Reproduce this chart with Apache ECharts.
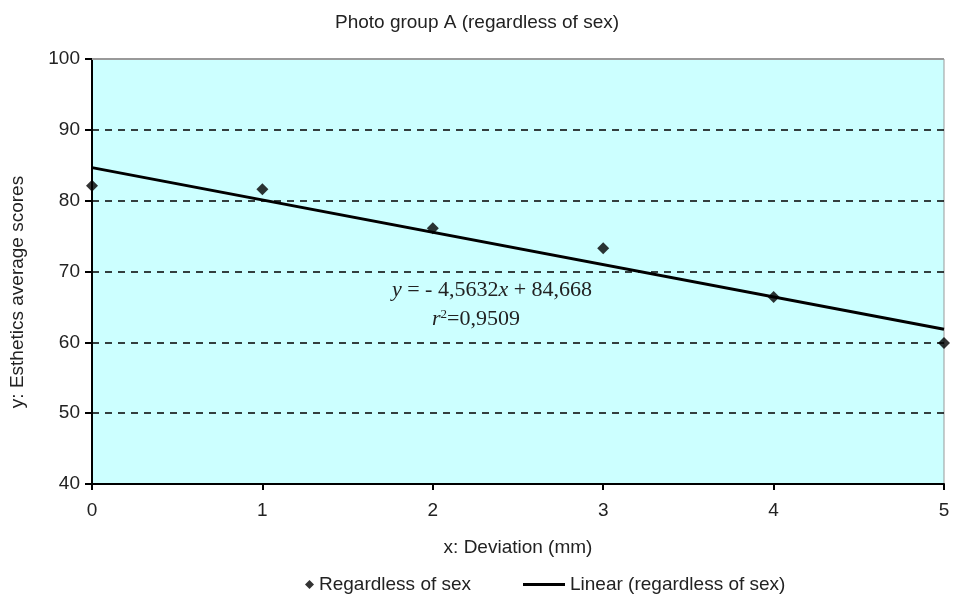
<!DOCTYPE html>
<html>
<head>
<meta charset="utf-8">
<script src="https://cdn.jsdelivr.net/npm/echarts@6/dist/echarts.min.js"></script>
<style>
  html, body { margin: 0; padding: 0; background: #fff; }
  #chart { width: 954px; height: 599px; }
</style>
</head>
<body>
<div id="chart"></div>
<script>
const deviation = [0, 1, 2, 3, 4, 5]
const scores = [82.1, 81.6, 76.1, 73.3, 66.4, 59.9]
// trend line ends, from y = -4,5632x + 84,668
const trendX = [0, 5]
const trendY = [84.668, 61.852]

const chart = echarts.init(document.getElementById('chart'))
const txt = '#222'

chart.setOption({
  animation: false,
  textStyle: { fontFamily: 'Liberation Sans, Arial, sans-serif' },
  title: {
    text: 'Photo group A (regardless of sex)',
    left: 'center',
    top: 8,
    textStyle: { fontSize: 19, fontWeight: 'normal', color: txt }
  },
  grid: {
    left: 92,
    right: 10,
    top: 59,
    bottom: 115,
    show: true,
    backgroundColor: '#ccffff',
    borderColor: '#999',
    borderWidth: 1
  },
  legend: [
    {
      left: 300,
      top: 570,
      textStyle: { fontSize: 19, color: txt },
      data: [{ name: 'Regardless of sex', icon: 'diamond', itemStyle: { color: '#000' } }],
      itemWidth: 9,
      itemHeight: 9,
      itemGap: 5
    },
    {
      left: 518,
      top: 570,
      textStyle: { fontSize: 19, color: txt },
      data: [{ name: 'Linear (regardless of sex)', icon: 'rect', itemStyle: { color: '#000' } }],
      itemWidth: 42,
      itemHeight: 3
    }
  ],
  xAxis: {
    type: 'value',
    min: 0,
    max: 5,
    interval: 1,
    name: 'x: Deviation (mm)',
    nameLocation: 'middle',
    nameGap: 54,
    nameTextStyle: { fontSize: 19, color: txt },
    axisLine: { lineStyle: { color: '#000', width: 2 } },
    axisTick: { show: true, length: 6, lineStyle: { color: '#000', width: 2 } },
    axisLabel: { fontSize: 19, color: txt, margin: 17 },
    splitLine: { show: false }
  },
  yAxis: {
    type: 'value',
    min: 40,
    max: 100,
    interval: 10,
    axisLine: { show: true, lineStyle: { color: '#000', width: 2 } },
    axisTick: { show: true, length: 7, lineStyle: { color: '#000', width: 2 } },
    axisLabel: { fontSize: 19, color: txt, margin: 12 },
    splitLine: { show: true, lineStyle: { color: '#000', type: [7, 6], width: 1.5 } }
  },
  series: [
    {
      name: 'Linear (regardless of sex)',
      type: 'line',
      data: trendX.map((x, i) => [x, trendY[i]]),
      symbol: 'none',
      lineStyle: { color: '#000', width: 3 },
      itemStyle: { color: '#000' },
      z: 3,
      markLine: {
        silent: true,
        symbol: 'none',
        label: { show: false },
        lineStyle: { color: '#999', type: 'solid', width: 2 },
        data: [{ yAxis: 100 }]
      }
    },
    {
      name: 'Regardless of sex',
      type: 'scatter',
      data: deviation.map((x, i) => [x, scores[i]]),
      symbol: 'diamond',
      symbolSize: 12,
      itemStyle: { color: '#000' },
      z: 4
    }
  ],
  graphic: [
    {
      type: 'text',
      x: 18,
      y: 292,
      rotation: Math.PI / 2,
      style: {
        text: 'y: Esthetics average scores',
        font: '19px Liberation Sans, Arial, sans-serif',
        fill: txt,
        align: 'center',
        verticalAlign: 'middle'
      }
    },
    {
      type: 'text',
      x: 492,
      y: 290,
      style: {
        text: '{i|y} = - 4,5632{i|x} + 84,668',
        rich: {
          i: { fontStyle: 'italic', fontFamily: 'Liberation Serif, serif', fontSize: 22, fill: txt }
        },
        font: '22px Liberation Serif, serif',
        fill: txt,
        align: 'center',
        verticalAlign: 'middle'
      }
    },
    {
      type: 'text',
      x: 476,
      y: 319,
      style: {
        text: '{i|r}{s|2}=0,9509',
        rich: {
          i: { fontStyle: 'italic', fontFamily: 'Liberation Serif, serif', fontSize: 22, fill: txt },
          s: { fontFamily: 'Liberation Serif, serif', fontSize: 13, fill: txt, verticalAlign: 'top', padding: [0, 0, 9, 0] }
        },
        font: '22px Liberation Serif, serif',
        fill: txt,
        align: 'center',
        verticalAlign: 'middle'
      }
    }
  ]
})
</script>
</body>
</html>
